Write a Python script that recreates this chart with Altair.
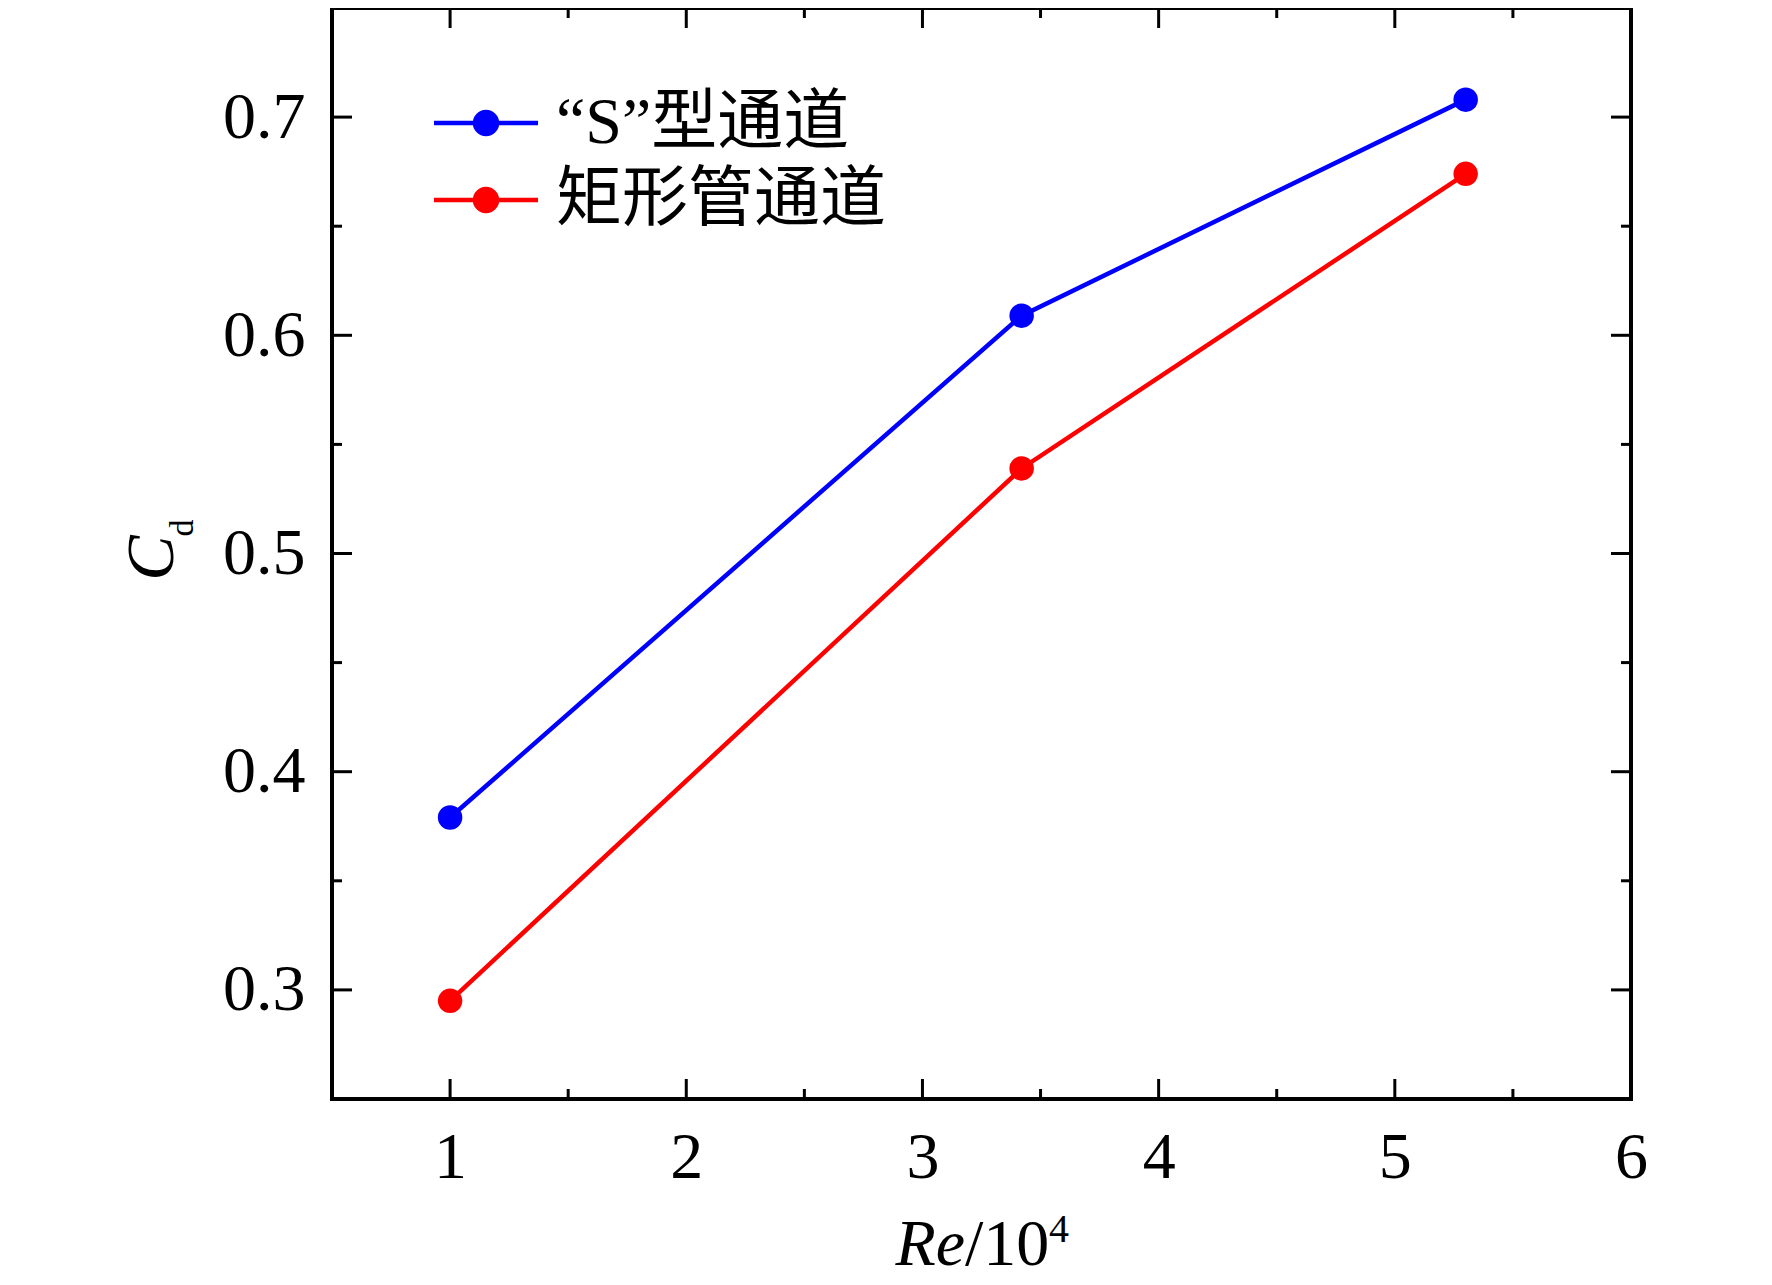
import altair as alt
import pandas as pd

# ---- data ----
re_vals = [1.0, 3.42, 5.3]
cd_s_channel = [0.379, 0.609, 0.708]
cd_rect_channel = [0.295, 0.539, 0.674]
series_names = ["\u201cS\u201d型通道", "矩形管通道"]
series_colors = ["#0000FF", "#FF0000"]

x_major = [1, 2, 3, 4, 5, 6]
x_minor = [1.5, 2.5, 3.5, 4.5, 5.5]
y_major = [0.3, 0.4, 0.5, 0.6, 0.7]
y_minor = [0.35, 0.45, 0.55, 0.65]

x_title_parts = ["Re", "/10", "4"]
y_title_parts = ["C", "d"]

FONT = "Liberation Serif, Noto Sans CJK SC"
W, H = 1299, 1091

df = pd.DataFrame({
    "Re": re_vals * 2,
    "Cd": cd_s_channel + cd_rect_channel,
    "series": [series_names[0]] * len(re_vals) + [series_names[1]] * len(re_vals),
})

xs = alt.Scale(domain=[0.5, 6], nice=False, zero=False)
ys = alt.Scale(domain=[0.25, 0.75], nice=False, zero=False)
x_axis = alt.Axis(values=x_major, format="d", ticks=False, domain=False, grid=False,
                  labelPadding=26, labelFontSize=66, labelFont=FONT, labelColor="black",
                  labelFlush=False, title=None)
y_axis = alt.Axis(values=y_major, format=".1f", ticks=False, domain=False, grid=False,
                  labelPadding=27, labelFontSize=66, labelFont=FONT, labelColor="black",
                  labelFlush=False, title=None)

col_scale = alt.Scale(domain=series_names, range=series_colors)
SYMBOL = "M-4.73,0H4.73M1,0A1,1,0,1,1,-1,0A1,1,0,1,1,1,0Z"
leg = alt.Legend(orient="none", legendX=121, legendY=82, title=None,
                 symbolType=SYMBOL, symbolSize=484, symbolStrokeWidth=4.5,
                 labelFont=FONT, labelFontSize=66, labelOffset=37, rowPadding=11,
                 labelColor="black", labelLimit=0, padding=0)

lines = alt.Chart(df).mark_line(strokeWidth=4.5).encode(
    x=alt.X("Re:Q", scale=xs, axis=x_axis),
    y=alt.Y("Cd:Q", scale=ys, axis=y_axis),
    stroke=alt.Stroke("series:N", scale=col_scale, legend=leg),
)
points = alt.Chart(df).mark_point(filled=True, size=600, opacity=1).encode(
    x=alt.X("Re:Q", scale=xs, axis=x_axis),
    y=alt.Y("Cd:Q", scale=ys, axis=y_axis),
    fill=alt.Fill("series:N", scale=col_scale, legend=leg),
)


def xticks(vals, length, top):
    if top:
        yv, y2v = 0, length
    else:
        yv, y2v = H, H - length
    return alt.Chart(pd.DataFrame({"v": vals})).mark_rule(color="black", strokeWidth=3).encode(
        x=alt.X("v:Q", scale=xs, axis=x_axis), y=alt.value(yv), y2=alt.value(y2v))


def yticks(vals, length, right):
    if right:
        xv, x2v = W, W - length
    else:
        xv, x2v = 0, length
    return alt.Chart(pd.DataFrame({"v": vals})).mark_rule(color="black", strokeWidth=3).encode(
        y=alt.Y("v:Q", scale=ys, axis=y_axis), x=alt.value(xv), x2=alt.value(x2v))


tick_layers = [
    xticks(x_major, 20, False), xticks(x_minor, 10, False),
    xticks(x_major, 20, True), xticks(x_minor, 10, True),
    yticks(y_major, 20, False), yticks(y_minor, 10, False),
    yticks(y_major, 20, True), yticks(y_minor, 10, True),
]


def label(txt, x, y, size, style="normal", angle=0, align="left", baseline="alphabetic"):
    return alt.Chart(pd.DataFrame({"t": [txt]})).mark_text(
        font=FONT, fontSize=size, fontStyle=style, angle=angle, align=align,
        baseline=baseline, color="black").encode(
        x=alt.value(x), y=alt.value(y), text="t:N")


titles = [
    label(x_title_parts[0], 633, 1257, 66, style="italic", align="right"),
    label(x_title_parts[1], 633, 1257, 66),
    label(x_title_parts[2], 717, 1234, 40),
    label(y_title_parts[0], -179, 550, 68, style="italic", angle=270, align="center", baseline="middle"),
    label(y_title_parts[1], -149, 520, 34, angle=270, align="center", baseline="middle"),
]

chart = alt.layer(*tick_layers, lines, points, *titles).properties(
    width=W, height=H,
    background="white",
    padding={"left": 324, "top": 0, "right": 133, "bottom": 186},
    autosize=alt.AutoSizeParams(type="none"),
).configure_view(stroke="black", strokeWidth=4)

chart.save("out.html", embed_options={"renderer": "svg", "actions": False})
